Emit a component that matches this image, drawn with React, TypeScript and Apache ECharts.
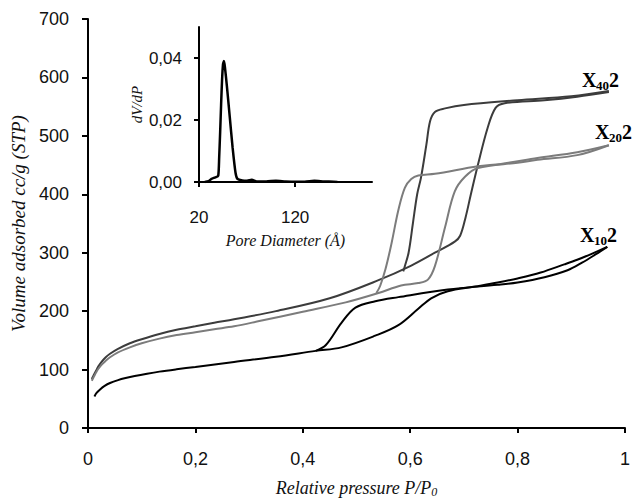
import React, { useEffect, useRef } from 'react';
import * as echarts from 'echarts';

// Main isotherms: [P/P0, volume adsorbed cc/g]
const x40Adsorption = [
  [0.007, 84], [0.011, 91], [0.015, 98], [0.019, 105], [0.026, 114], [0.033, 121], [0.041, 127], [0.055, 135],
  [0.078, 145], [0.1, 152], [0.133, 161], [0.165, 168], [0.2, 174], [0.235, 180], [0.272, 186],
  [0.35, 200], [0.45, 222], [0.541, 253], [0.602, 278], [0.646, 300], [0.683, 319], [0.693, 329],
  [0.703, 360], [0.713, 400], [0.726, 450], [0.744, 513], [0.759, 548], [0.776, 556], [0.85, 561],
  [0.911, 567], [0.97, 575],
];
const x40Desorption = [
  [0.97, 577], [0.9, 568], [0.8, 561], [0.7, 553], [0.665, 547], [0.646, 541],
  [0.637, 525], [0.63, 484], [0.62, 428], [0.613, 400], [0.605, 350], [0.597, 300],
  [0.59, 277], [0.587, 268],
];
const x20Adsorption = [
  [0.007, 81], [0.011, 88], [0.015, 95], [0.019, 101], [0.026, 109], [0.033, 115], [0.041, 121], [0.055, 129],
  [0.078, 138], [0.1, 145], [0.133, 153], [0.165, 159], [0.2, 164], [0.235, 169], [0.272, 174],
  [0.319, 183], [0.4, 199], [0.48, 215], [0.541, 231], [0.583, 244], [0.615, 248], [0.633, 254],
  [0.646, 277], [0.665, 344], [0.683, 405], [0.702, 430], [0.726, 445], [0.8, 454], [0.837, 459],
  [0.911, 467], [0.97, 484],
];
const x20Desorption = [
  [0.97, 484], [0.911, 472], [0.837, 462], [0.769, 452], [0.726, 448], [0.646, 435],
  [0.615, 432], [0.602, 426], [0.59, 411], [0.578, 373], [0.565, 315], [0.554, 272],
  [0.544, 243], [0.537, 231],
];
const x10Adsorption = [
  [0.012, 54], [0.016, 60], [0.022, 65.5], [0.031, 72], [0.041, 77], [0.056, 82], [0.07, 85.5],
  [0.087, 89], [0.11, 93], [0.133, 96.5], [0.165, 100.5], [0.2, 104.5], [0.272, 113], [0.35, 122],
  [0.424, 132], [0.472, 138], [0.535, 158], [0.578, 176], [0.615, 204], [0.639, 222], [0.67, 234],
  [0.72, 242], [0.763, 249], [0.8, 256], [0.843, 266], [0.887, 280], [0.911, 288], [0.94, 299],
  [0.967, 310],
];
const x10Desorption = [
  [0.967, 310], [0.945, 297], [0.92, 283], [0.893, 270], [0.85, 258], [0.8, 249],
  [0.763, 245], [0.67, 237], [0.578, 224], [0.535, 217], [0.498, 206], [0.472, 180],
  [0.443, 142], [0.424, 132],
];

// Inset: pore size distribution
const poreDiameter = [26, 30, 33, 37, 40, 41, 42, 43, 44, 45, 46, 47, 49, 52, 55, 58, 60, 65, 70, 75, 80, 90, 100, 110, 120, 130, 140, 150, 160, 164];
const dVdP = [0, 0.0003, 0.001, 0.0015, 0.002, 0.008, 0.016, 0.025, 0.033, 0.038, 0.039, 0.037, 0.031, 0.021, 0.011, 0.003, 0.001, 0.0005, 0.0004, 0.0007, 0.0002, 0.0002, 0.0004, 0.0002, 0.0001, 0.0001, 0.0004, 0.0002, 0.0001, 0];

const mainXTicks = [0, 0.2, 0.4, 0.6, 0.8, 1];
const insetXTicks = [20, 120];
const insetYTicks = [0, 0.02, 0.04];
const seriesLabels = [
  { sub: '40', left: 582, mid: 80 },
  { sub: '20', left: 595, mid: 132 },
  { sub: '10', left: 580, mid: 235 },
];

const C40 = '#3c3c3c';
const C20 = '#7c7c7c';
const C10 = '#000000';

export default function App() {
  const ref = useRef<HTMLDivElement>(null);
  useEffect(() => {
    if (!ref.current) return;
    const chart = echarts.init(ref.current, undefined, { renderer: 'svg' });
    const sans = '"Liberation Sans", Arial, sans-serif';
    const serif = '"Liberation Serif", "Times New Roman", serif';
    const line = (data: number[][], color: string) => ({
      type: 'line',
      data,
      xAxisIndex: 0,
      yAxisIndex: 0,
      showSymbol: false,
      smooth: 0.35,
      lineStyle: { color, width: 2 },
      silent: true,
    });
    const labelGroup = (sub: string, left: number, mid: number) => ({
      type: 'group',
      children: [
        { type: 'text', style: { x: left, y: mid, text: 'X', font: `bold 20px ${serif}`, fill: '#000', textVerticalAlign: 'middle' } },
        { type: 'text', style: { x: left + 14, y: mid + 5, text: sub, font: `bold 13px ${serif}`, fill: '#000', textVerticalAlign: 'middle' } },
        { type: 'text', style: { x: left + 27, y: mid, text: '2', font: `bold 20px ${serif}`, fill: '#000', textVerticalAlign: 'middle' } },
      ],
    });
    chart.setOption({
      animation: false,
      backgroundColor: '#fff',
      grid: [
        { left: 88, right: 5, top: 19, bottom: 69 },
        { left: 199, right: 261, top: 27, bottom: 321 },
      ],
      xAxis: [
        {
          type: 'value', gridIndex: 0, min: 0, max: 1, interval: 0.2,
          splitLine: { show: false },
          axisLine: { onZero: false, lineStyle: { color: '#000', width: 2 } },
          axisTick: { show: true, length: 5, lineStyle: { color: '#000', width: 2 } },
          axisLabel: {
            margin: 22, fontFamily: sans, fontSize: 18, color: '#111',
            formatter: (v: number) => (mainXTicks.includes(Math.round(v * 10) / 10) ? String(Math.round(v * 10) / 10).replace('.', ',') : ''),
          },
          name: 'Relative pressure P/P{s|0}', nameLocation: 'middle', nameGap: 50,
          nameTextStyle: {
            fontFamily: serif, fontStyle: 'italic', fontSize: 18, color: '#111',
            rich: { s: { fontFamily: serif, fontStyle: 'italic', fontSize: 12, color: '#111', padding: [8, 0, 0, 0] } },
          },
        },
        {
          type: 'value', gridIndex: 1, min: 20, max: 200,
          splitLine: { show: false },
          axisLine: { onZero: false, lineStyle: { color: '#000', width: 2 } },
          axisTick: { show: true, length: 5, customValues: insetXTicks, lineStyle: { color: '#000', width: 2 } },
          axisLabel: { margin: 27, fontFamily: sans, fontSize: 17, color: '#111', customValues: insetXTicks },
          name: 'Pore Diameter (Å)', nameLocation: 'middle', nameGap: 50,
          nameTextStyle: { fontFamily: serif, fontStyle: 'italic', fontSize: 16, color: '#111' },
        },
      ],
      yAxis: [
        {
          type: 'value', gridIndex: 0, min: 0, max: 700, interval: 100,
          splitLine: { show: false },
          axisLine: { show: true, lineStyle: { color: '#000', width: 2 } },
          axisTick: { show: true, length: 6, lineStyle: { color: '#000', width: 2 } },
          axisLabel: { margin: 19, fontFamily: sans, fontSize: 18, color: '#111' },
          name: 'Volume adsorbed cc/g (STP)', nameLocation: 'middle', nameGap: 60,
          nameTextStyle: { fontFamily: serif, fontStyle: 'italic', fontSize: 19, color: '#111' },
        },
        {
          type: 'value', gridIndex: 1, min: 0, max: 0.05,
          splitLine: { show: false },
          axisLine: { show: true, lineStyle: { color: '#000', width: 2 } },
          axisTick: { show: true, length: 5, customValues: insetYTicks, lineStyle: { color: '#000', width: 2 } },
          axisLabel: {
            margin: 17, fontFamily: sans, fontSize: 17, color: '#111', customValues: insetYTicks,
            formatter: (v: number) => v.toFixed(2).replace('.', ','),
          },
          name: 'dV/dP', nameLocation: 'middle', nameGap: 55,
          nameTextStyle: { fontFamily: serif, fontStyle: 'italic', fontSize: 15, color: '#111' },
        },
      ],
      series: [
        line(x40Adsorption, C40),
        line(x40Desorption, C40),
        line(x20Adsorption, C20),
        line(x20Desorption, C20),
        line(x10Adsorption, C10),
        line(x10Desorption, C10),
        {
          type: 'line',
          xAxisIndex: 1,
          yAxisIndex: 1,
          data: poreDiameter.map((d, i) => [d, dVdP[i]]),
          showSymbol: false,
          smooth: 0.2,
          lineStyle: { color: '#000', width: 2.5 },
          silent: true,
        },
      ],
      graphic: seriesLabels.map((l) => labelGroup(l.sub, l.left, l.mid)),
    });
    return () => chart.dispose();
  }, []);
  return <div ref={ref} style={{ position: 'fixed', left: 0, top: 0, width: 633, height: 503 }} />;
}
